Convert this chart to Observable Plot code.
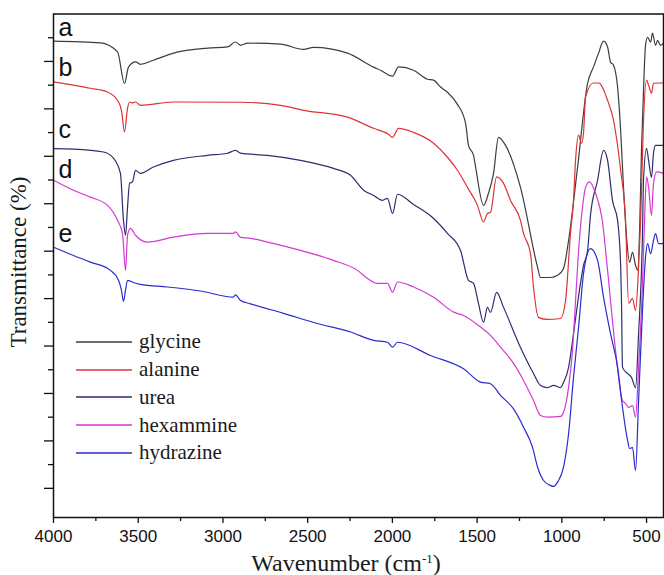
<!DOCTYPE html>
<html><head><meta charset="utf-8">
<script src="https://cdn.jsdelivr.net/npm/d3@7"></script>
<script src="https://cdn.jsdelivr.net/npm/@observablehq/plot@0.6"></script>
<style>
body{margin:0;background:#fff;}
#wrap{position:relative;width:664px;height:575px;overflow:hidden;}
.serif{font-family:"Liberation Serif","Times New Roman",serif;color:#1a1a1a;position:absolute;white-space:nowrap;}
#ytitle{left:19px;top:262px;transform:translate(-50%,-50%) rotate(-90deg);font-size:23px;}
#xtitle{left:346px;top:563px;transform:translate(-50%,-50%);font-size:24px;}
#xtitle sup{font-size:13px;vertical-align:8px;line-height:0;}
#legend{left:76px;top:328px;}
.row{display:flex;align-items:center;height:27.75px;font-size:21px;}
.row svg{margin-right:7px;display:block;}
</style></head><body><div id="wrap"></div>
<script>
// Series: [wavenumber (cm-1), transmittance (arbitrary offset units)]
const glycine = [[4000,19.86],[3723,19.78],[3622,19.40],[3581,18.07],[3557,18.77],[3516,18.98],[3487,18.88],[3410,19.05],[3292,19.35],[3091,19.56],[2973,19.61],[2926,19.82],[2896,19.68],[2855,19.77],[2660,19.73],[2524,19.51],[2465,19.59],[2265,19.35],[2111,18.76],[2070,18.63],[1999,18.38],[1964,18.77],[1875,18.63],[1793,18.25],[1757,18.21],[1716,17.92],[1675,17.70],[1616,17.19],[1568,16.39],[1551,15.46],[1521,15.04],[1509,14.55],[1462,12.93],[1433,13.44],[1403,14.28],[1374,15.80],[1332,15.46],[1244,13.69],[1143,10.32],[1126,9.89],[1067,9.89],[1025,9.98],[990,10.27],[960,11.46],[907,14.54],[848,18.08],[813,18.77],[783,19.35],[754,19.86],[730,19.61],[713,18.98],[695,18.84],[671,17.92],[653,16.10],[636,13.69],[618,11.58],[600,10.53],[583,10.95],[565,10.40],[553,10.19],[541,11.88],[530,15.25],[518,17.78],[506,19.68],[494,20.02],[476,19.81],[465,20.19],[447,19.68],[435,19.89],[418,19.68],[400,19.77]];
const alanine = [[4000,18.14],[3882,18.00],[3782,17.87],[3681,17.71],[3616,17.29],[3599,16.94],[3581,16.03],[3563,17.03],[3551,17.29],[3534,17.25],[3516,17.29],[3487,17.15],[3292,17.29],[2896,17.28],[2660,17.15],[2524,16.94],[2265,16.65],[2111,16.18],[2023,15.93],[1999,15.80],[1964,16.18],[1875,16.01],[1757,15.55],[1675,14.96],[1616,14.41],[1557,13.69],[1498,12.93],[1462,12.23],[1439,12.59],[1421,12.64],[1385,14.13],[1344,13.86],[1303,13.14],[1244,12.30],[1226,11.75],[1185,10.91],[1167,9.47],[1138,8.21],[1084,8.12],[1008,8.16],[978,8.92],[949,11.75],[931,13.14],[919,14.83],[901,15.89],[884,15.55],[872,15.97],[860,17.50],[813,18.09],[783,18.09],[730,17.36],[695,16.52],[653,14.41],[624,12.30],[606,8.80],[583,9.01],[565,8.50],[547,10.32],[535,12.30],[518,16.52],[500,18.21],[488,18.00],[471,17.66],[459,18.08],[418,18.09],[400,18.09]];
const urea = [[4000,15.32],[3882,15.30],[3705,15.18],[3646,14.92],[3605,14.28],[3587,12.30],[3575,11.67],[3563,12.86],[3551,13.86],[3534,13.92],[3516,14.41],[3487,14.28],[3410,14.55],[3292,14.83],[3091,15.04],[2973,15.13],[2926,15.25],[2896,15.13],[2737,15.04],[2542,14.83],[2347,14.49],[2247,14.20],[2170,13.57],[2111,13.35],[2058,13.14],[2029,13.23],[1999,12.59],[1970,13.40],[1875,12.97],[1757,12.38],[1675,11.75],[1598,11.03],[1551,9.77],[1521,9.64],[1492,8.80],[1462,8.00],[1439,8.63],[1421,8.42],[1385,9.26],[1344,8.63],[1244,6.94],[1167,5.84],[1126,5.34],[1084,5.25],[1049,5.34],[1008,5.25],[990,5.46],[960,6.10],[931,7.53],[890,9.64],[872,10.40],[848,11.03],[831,12.51],[789,13.99],[754,15.25],[730,14.83],[701,13.14],[671,12.30],[653,10.40],[648,8.92],[642,6.10],[612,5.84],[589,5.68],[565,5.25],[547,7.53],[524,11.75],[518,13.99],[500,15.34],[488,14.83],[471,14.11],[459,15.13],[447,15.46],[400,15.46]];
const hexammine = [[4000,13.99],[3882,13.57],[3782,13.28],[3681,12.93],[3622,12.30],[3593,11.75],[3575,10.19],[3563,11.67],[3546,11.96],[3516,11.67],[3445,11.38],[3292,11.59],[3091,11.75],[2938,11.75],[2926,11.81],[2896,11.58],[2837,11.54],[2737,11.38],[2542,11.03],[2347,10.61],[2206,10.19],[2147,9.85],[2088,9.64],[2029,9.64],[1999,9.27],[1970,9.70],[1875,9.49],[1757,9.06],[1639,8.43],[1580,8.29],[1480,7.80],[1421,7.45],[1362,6.95],[1285,6.27],[1226,5.55],[1167,4.70],[1126,4.07],[1084,4.00],[1008,4.03],[990,4.21],[960,5.27],[937,6.81],[919,8.92],[901,11.03],[878,12.85],[860,13.69],[837,13.92],[801,13.44],[760,12.22],[730,10.19],[683,6.81],[642,4.70],[624,4.58],[606,4.41],[583,4.49],[565,4.00],[547,6.10],[524,9.64],[512,12.30],[500,14.13],[488,13.70],[471,12.51],[459,13.86],[441,14.34],[400,14.28]];
const hydrazine = [[4000,11.17],[3882,10.82],[3782,10.54],[3664,10.19],[3616,9.77],[3599,9.35],[3587,8.88],[3575,9.35],[3563,9.77],[3528,9.68],[3487,9.60],[3327,9.49],[3132,9.32],[2938,9.06],[2926,9.16],[2896,8.92],[2837,8.78],[2643,8.38],[2442,7.95],[2247,7.59],[2111,7.24],[2029,7.16],[1999,6.95],[1970,7.16],[1775,6.60],[1580,6.04],[1480,5.48],[1421,5.41],[1362,4.92],[1285,4.35],[1226,3.58],[1173,2.73],[1143,1.89],[1108,1.33],[1067,1.12],[1049,1.08],[1025,1.26],[990,1.89],[960,3.31],[931,5.69],[901,7.80],[872,10.05],[831,11.11],[789,10.61],[754,9.06],[713,7.53],[671,6.11],[642,4.42],[612,3.02],[600,2.68],[583,2.73],[565,1.75],[547,4.70],[524,8.50],[506,10.75],[494,11.32],[476,10.89],[459,11.46],[447,11.74],[429,11.32],[400,11.32]];

const seriesNames = ["glycine","alanine","urea","hexammine","hydrazine"];
const seriesColors = ["#3d3d3d","#dc3434","#2e2e6e","#d33ad3","#2b2bd0"];
const curveLetters = ["a","b","c","d","e"];
const letterY = [20.06,18.37,15.76,14.08,11.38];
const letterX = 3970;
const xMajorTicks = [4000,3500,3000,2500,2000,1500,1000,500];
const xMinorTicks = [3750,3250,2750,2250,1750,1250,750];
const yLongTicks = [1,3,5,7,9,11,13,15,17,19];
const yShortTicks = [2,4,6,8,10,12,14,16,18,20];

const all = [glycine, alanine, urea, hexammine, hydrazine];
const rows = [];
all.forEach((s,i)=>s.forEach(([w,t])=>rows.push({series:seriesNames[i], w, t})));

const plot = Plot.plot({
  width: 664, height: 575,
  marginTop: 13.5, marginBottom: 58, marginLeft: 53, marginRight: 1,
  x: {domain:[4000,400]},
  y: {domain:[-0.23,21]},
  color: {domain: seriesNames, range: seriesColors},
  style: {fontFamily:"'Liberation Sans', Arial, sans-serif", color:"#111", background:"#fff", overflow:"visible"},
  marks: [
    Plot.axisX({ticks:xMajorTicks, tickSize:6, tickPadding:6, fontSize:17, label:null, tickFormat:d=>String(d), strokeWidth:1.3}),
    Plot.axisX({ticks:xMinorTicks, tickSize:4, tickFormat:()=>"", label:null, strokeWidth:1.3}),
    Plot.axisY({ticks:yLongTicks, tickSize:9, tickFormat:()=>"", label:null, strokeWidth:1.3}),
    Plot.axisY({ticks:yShortTicks, tickSize:5, tickFormat:()=>"", label:null, strokeWidth:1.3}),
    Plot.line(rows, {x:"w", y:"t", z:"series", stroke:"series", strokeWidth:1.2, curve:"monotone-x"}),
    Plot.text(curveLetters, {x:()=>letterX, y:(d,i)=>letterY[i], text:d=>d, textAnchor:"start", lineAnchor:"bottom", fontSize:25, fill:"#111"}),
    Plot.frame({stroke:"#111", strokeWidth:1.5})
  ]
});
const wrap = document.getElementById("wrap");
wrap.appendChild(plot);

const yt = document.createElement("div"); yt.id="ytitle"; yt.className="serif"; yt.textContent="Transmittance (%)"; wrap.appendChild(yt);
const xt = document.createElement("div"); xt.id="xtitle"; xt.className="serif"; xt.innerHTML="Wavenumber (cm<sup>-1</sup>)"; wrap.appendChild(xt);
const lg = document.createElement("div"); lg.id="legend"; lg.className="serif";
const NS = "http://www.w3.org/2000/svg";
seriesNames.forEach((n,i)=>{
  const r=document.createElement("div"); r.className="row";
  const sv=document.createElementNS(NS,"svg"); sv.setAttribute("width","56"); sv.setAttribute("height","6");
  const ln=document.createElementNS(NS,"line");
  ln.setAttribute("x1","0"); ln.setAttribute("x2","56"); ln.setAttribute("y1","3"); ln.setAttribute("y2","3");
  ln.setAttribute("stroke",seriesColors[i]); ln.setAttribute("stroke-width","1.5");
  sv.appendChild(ln);
  const t=document.createElement("span"); t.textContent=n;
  r.appendChild(sv); r.appendChild(t); lg.appendChild(r);
});
wrap.appendChild(lg);
</script></body></html>
